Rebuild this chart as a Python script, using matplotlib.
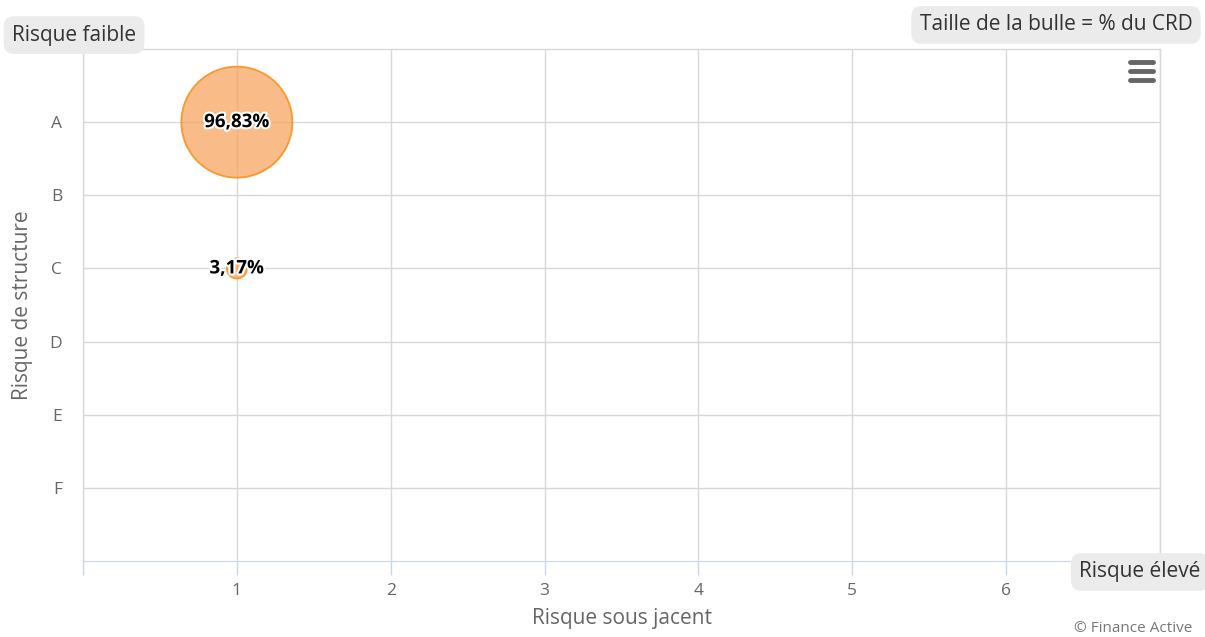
import matplotlib
matplotlib.use("Agg")
import matplotlib.pyplot as plt
import matplotlib.patheffects as pe
from matplotlib.lines import Line2D

plt.rcParams['font.family'] = ['Open Sans', 'DejaVu Sans']

# data
structure = ['A', 'B', 'C', 'D', 'E', 'F']
underlying = [1, 2, 3, 4, 5, 6]
bubble_x = [1, 1]
bubble_y = ['A', 'C']
bubble_pct = [96.83, 3.17]
bubble_labels = ['96,83%', '3,17%']

W, H = 1205, 637
fig = plt.figure(figsize=(W / 100, H / 100), dpi=100)
ax = fig.add_axes([83 / W, (H - 561) / H, (1160 - 83) / W, (561 - 49) / H])

ypos = [structure.index(c) for c in bubble_y]
sizes = [p * 66 for p in bubble_pct]
ax.scatter(bubble_x, ypos, s=sizes, facecolor='#f7a35c', alpha=0.72,
           edgecolor='none', zorder=3)
ax.scatter(bubble_x, ypos, s=sizes, facecolor='none', edgecolor='#f7931e',
           linewidth=1.3, alpha=0.9, zorder=3)
for x, y, t in zip(bubble_x, ypos, bubble_labels):
    ax.text(x, y, t, ha='center', va='center', fontsize=13.5, fontweight='bold',
            color='black', zorder=4,
            path_effects=[pe.withStroke(linewidth=3, foreground='white')])

ax.set_xlim(0, 7)
ax.set_ylim(6, -1)
ax.set_xticks(range(0, 8))
ax.set_xticklabels([''] + [str(v) for v in underlying] + [''])
ax.set_yticks(range(len(structure)))
ax.set_yticklabels(structure)
ax.grid(True, color='#d8d8d8', linewidth=1)
ax.set_axisbelow(True)
for s in ['top', 'right', 'left']:
    ax.spines[s].set_visible(False)
ax.axhline(-1, color='#d8d8d8', linewidth=1, zorder=0, clip_on=False)
ax.axvline(0, color='#d8d8d8', linewidth=1, zorder=0, clip_on=False)
ax.axvline(7, color='#d8d8d8', linewidth=1, zorder=0, clip_on=False)
ax.spines['bottom'].set_color('#ccd6eb')
ax.tick_params(axis='x', colors='#ccd6eb', length=10, width=1, labelcolor='#666666',
               labelsize=12.5, pad=6)
ax.tick_params(axis='y', length=0, labelcolor='#666666', labelsize=12.5, pad=15)

ax.set_xlabel('Risque sous jacent', fontsize=15, color='#666666', labelpad=6)
ax.set_ylabel('Risque de structure', fontsize=15, color='#666666', labelpad=12)

box = dict(boxstyle='round,pad=0.4,rounding_size=0.5', facecolor='#ebebeb',
           edgecolor='none')
fig.text(74 / W, 1 - 35 / H, 'Risque faible', ha='center', va='center',
         fontsize=15, color='#333333', bbox=box)
fig.text(1056 / W, 1 - 25 / H, 'Taille de la bulle = % du CRD', ha='center',
         va='center', fontsize=15, color='#333333', bbox=box)
fig.text(1140 / W, 1 - 572 / H, 'Risque élevé', ha='center', va='center',
         fontsize=15, color='#333333', bbox=box)
fig.text(1192 / W, 1 - 628 / H, '© Finance Active', ha='right', va='center',
         fontsize=11, color='#777777')

# menu icon
for yy in [62, 71, 80]:
    fig.add_artist(Line2D([1130 / W, 1153 / W], [1 - yy / H, 1 - yy / H],
                          color='#666666', linewidth=3.5, solid_capstyle='round'))

fig.savefig('out.png', dpi=100)
